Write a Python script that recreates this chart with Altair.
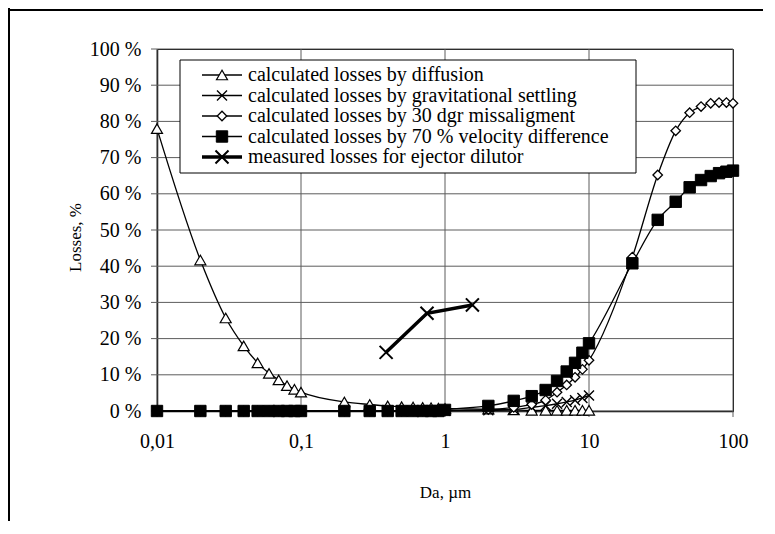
import altair as alt
import pandas as pd

# ---------------- data ----------------
da_fine = [0.01, 0.02, 0.03, 0.04, 0.05, 0.06, 0.07, 0.08, 0.09,
           0.1, 0.2, 0.3, 0.4, 0.5, 0.6, 0.7, 0.8, 0.9,
           1, 2, 3, 4, 5, 6, 7, 8, 9, 10]
da_coarse = [20, 30, 40, 50, 60, 70, 80, 90, 100]

loss_diffusion = [78.0, 41.7, 25.7, 18.0, 13.3, 10.4, 8.6, 7.0, 6.0,
                  5.2, 2.5, 1.8, 1.4, 1.2, 1.1, 1.0, 0.9, 0.8,
                  0.7, 0.5, 0.3, 0.2, 0.2, 0.2, 0.2, 0.2, 0.2, 0.2]
loss_gravitational = [0.0, 0.0, 0.0, 0.0, 0.0, 0.0, 0.0, 0.0, 0.0,
                      0.0, 0.0, 0.0, 0.0, 0.0, 0.0, 0.0, 0.0, 0.0,
                      0.1, 0.2, 0.4, 1.0, 1.5, 2.0, 2.5, 3.0, 3.6, 4.3]
loss_misalign_fine = [0.0, 0.0, 0.0, 0.0, 0.0, 0.0, 0.0, 0.0, 0.0,
                      0.0, 0.0, 0.0, 0.0, 0.0, 0.0, 0.0, 0.0, 0.0,
                      0.1, 0.4, 1.0, 1.8, 3.0, 5.2, 7.2, 9.3, 11.5, 14.0]
loss_misalign_coarse = [42.5, 65.2, 77.4, 82.4, 84.1, 85.0, 85.2, 85.2, 85.0]
loss_velocity_fine = [0.0, 0.0, 0.0, 0.0, 0.0, 0.0, 0.0, 0.0, 0.0,
                      0.0, 0.0, 0.0, 0.0, 0.0, 0.0, 0.0, 0.0, 0.0,
                      0.3, 1.4, 2.8, 4.1, 5.8, 8.3, 10.9, 13.3, 16.1, 18.7]
loss_velocity_coarse = [40.8, 52.8, 57.8, 61.8, 63.8, 64.9, 65.7, 66.1, 66.4]
da_measured = [0.39, 0.75, 1.55]
loss_measured = [16.2, 27.0, 29.3]

labels = [
    "calculated losses by diffusion",
    "calculated losses by gravitational settling",
    "calculated losses by 30 dgr missaligment",
    "calculated losses by 70 % velocity difference",
    "measured losses for ejector dilutor",
]

x_ticks = [0.01, 0.1, 1, 10, 100]
y_ticks = [0, 10, 20, 30, 40, 50, 60, 70, 80, 90, 100]

# ---------------- tables ----------------
series_x = [da_fine, da_fine, da_fine + da_coarse, da_fine + da_coarse, da_measured]
series_y = [loss_diffusion, loss_gravitational,
            loss_misalign_fine + loss_misalign_coarse,
            loss_velocity_fine + loss_velocity_coarse, loss_measured]
frames = []
for i, (lab, xs, ys) in enumerate(zip(labels, series_x, series_y)):
    frames.append(pd.DataFrame({"da": xs, "loss": ys, "series": lab, "idx": i}))
df = pd.concat(frames, ignore_index=True)
legend_df = pd.DataFrame({"label": labels, "idx": list(range(len(labels)))})
xgrid_df = pd.DataFrame({"da": x_ticks})
ygrid_df = pd.DataFrame({"loss": y_ticks})
one = pd.DataFrame({"a": [0]})

# ---------------- styles ----------------
XPATH = "M-1,-1L1,1M-1,1L1,-1"
styles = [
    dict(shape="triangle-up", size=121, filled=True, fill="white", sw=1.2, lw=1.3, interp="monotone"),
    dict(shape=XPATH, size=100, filled=False, fill=None, sw=1.4, lw=1.3, interp="monotone"),
    dict(shape="diamond", size=90, filled=True, fill="white", sw=1.3, lw=1.3, interp="monotone"),
    dict(shape="square", size=130, filled=True, fill="black", sw=1.0, lw=1.3, interp="monotone"),
    dict(shape=XPATH, size=170, filled=False, fill=None, sw=2.0, lw=3.5, interp="linear"),
]

FONT = "Liberation Serif"
GRID = "#5c5c5c"
W, H = 576, 362
TICK = 6
LEG_X0, LEG_X1, LEG_Y0, LEG_Y1 = 23, 479, 11, 124
LEG_ROW0, LEG_STEP = 26, 20.5

x_enc = alt.X(
    "da:Q",
    scale=alt.Scale(type="log", domain=[0.01, 100]),
    axis=alt.Axis(
        values=x_ticks,
        labelExpr="replace(toString(datum.value), '.', ',')",
        labelFlush=False,
        labelOverlap=False,
        title="Da, µm",
        titleX=W / 2,
        titleY=86,
        titleBaseline="alphabetic",
        labelPadding=20,
        grid=False,
        ticks=False,
    ),
)
y_enc = alt.Y(
    "loss:Q",
    scale=alt.Scale(domain=[0, 100]),
    axis=alt.Axis(
        values=y_ticks,
        labelExpr="datum.value + ' %'",
        labelFlush=False,
        labelOverlap=False,
        title="Losses, %",
        titleAngle=270,
        titleX=-77,
        titleY=188,
        titleAlign="center",
        titleBaseline="alphabetic",
        labelPadding=16,
        grid=False,
        ticks=False,
    ),
)


def point_kw(st):
    kw = dict(shape=st["shape"], size=st["size"], filled=st["filled"],
              stroke="black", strokeWidth=st["sw"], opacity=1)
    if st["fill"] is not None:
        kw["fill"] = st["fill"]
    return kw


# gridlines (with their outward tick stubs) drawn from the tick arrays
layers = [
    alt.Chart(ygrid_df).mark_rule(color=GRID, strokeWidth=1).encode(
        y=y_enc, x=alt.value(-TICK), x2=alt.value(W)),
    alt.Chart(xgrid_df).mark_rule(color=GRID, strokeWidth=1).encode(
        x=x_enc, y=alt.value(0), y2=alt.value(H + TICK)),
]
for i, (lab, st) in enumerate(zip(labels, styles)):
    base = alt.Chart(df).transform_filter(alt.datum.idx == i)
    layers.append(
        base.mark_line(color="black", strokeWidth=st["lw"], interpolate=st["interp"])
        .encode(x=x_enc, y=y_enc, order="da:Q")
    )
    layers.append(base.mark_point(**point_kw(st)).encode(x=x_enc, y=y_enc))

# ---------------- legend box ----------------
layers.append(
    alt.Chart(one).mark_rect(fill="white", stroke="black", strokeWidth=1).encode(
        x=alt.value(LEG_X0), x2=alt.value(LEG_X1), y=alt.value(LEG_Y0), y2=alt.value(LEG_Y1)
    )
)
for i, (lab, st) in enumerate(zip(labels, styles)):
    row_y = LEG_ROW0 + LEG_STEP * i
    b = alt.Chart(legend_df).transform_filter(alt.datum.idx == i)
    layers.append(
        b.mark_rule(color="black", strokeWidth=st["lw"]).encode(
            x=alt.value(45), x2=alt.value(85), y=alt.value(row_y))
    )
    layers.append(b.mark_point(**point_kw(st)).encode(x=alt.value(65), y=alt.value(row_y)))
    layers.append(
        b.mark_text(align="left", baseline="middle", font=FONT, fontSize=20, color="black")
        .encode(x=alt.value(91), y=alt.value(row_y), text="label:N")
    )

# outer chart frame (left and top edges visible in the reference)
layers.append(
    alt.Chart(one).mark_rule(color="black", strokeWidth=2).encode(
        x=alt.value(-148), y=alt.value(-41), y2=alt.value(H + 110))
)
layers.append(
    alt.Chart(one).mark_rule(color="black", strokeWidth=2).encode(
        x=alt.value(-149), x2=alt.value(W + 30), y=alt.value(-39))
)

chart = (
    alt.layer(*layers)
    .properties(
        width=W,
        height=H,
        autosize=alt.AutoSizeParams(type="none"),
        padding={"left": 149, "top": 41, "right": 30, "bottom": 110},
    )
    .configure_view(stroke="black", strokeWidth=1)
    .configure_axis(
        labelFont=FONT,
        labelFontSize=20,
        labelColor="black",
        titleFont=FONT,
        titleFontSize=17,
        titleFontWeight="normal",
        titleColor="black",
        domainColor="black",
        domainWidth=1.5,
    )
)

chart.save("out.html", embed_options={"renderer": "svg", "actions": False})
